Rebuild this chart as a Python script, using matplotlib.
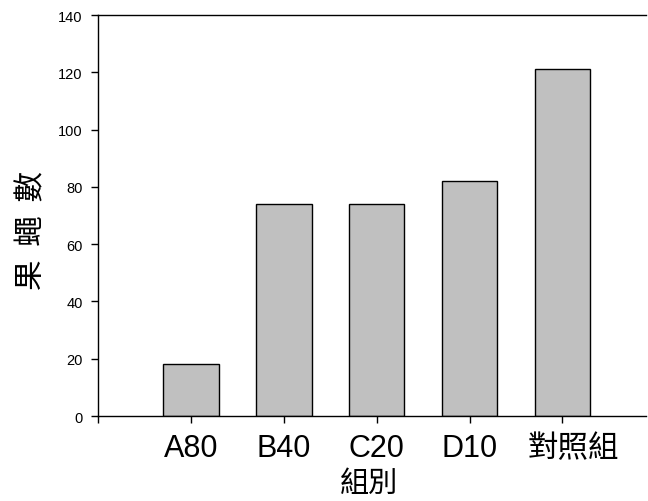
import matplotlib
matplotlib.use("Agg")
import matplotlib.pyplot as plt
import matplotlib.transforms as mtransforms

plt.rcParams['font.family'] = ['Liberation Sans', 'Noto Sans CJK TC', 'DejaVu Sans']

groups = ["A80", "B40", "C20", "D10", "對照組"]
counts = [18, 74, 74, 82, 121]
yticks = [0, 20, 40, 60, 80, 100, 120, 140]

fig = plt.figure(figsize=(6.48, 5.02), dpi=100)
ax = fig.add_axes([0.1512, 0.1693, 0.8457, 0.7988])

pos = list(range(len(groups)))
ax.bar(pos, counts, width=0.6, color="#c0c0c0", edgecolor="black", linewidth=1.0)

ax.set_xlim(-1, 4.9)
ax.set_ylim(0, 140)
ax.set_yticks(yticks)
ax.set_yticklabels([str(v) for v in yticks], fontsize=10.5)
ax.set_xticks([-1] + pos)
ax.set_xticklabels([""] + groups, fontsize=22)

ax.tick_params(axis="x", direction="out", length=5, width=1, pad=7)
ax.tick_params(axis="y", direction="out", length=5, width=1, pad=6)

# the last label sits a little right of its bar in the original
lab = ax.get_xticklabels()[-1]
lab.set_transform(lab.get_transform() + mtransforms.ScaledTranslation(11 / 100, 0, fig.dpi_scale_trans))

ax.spines["right"].set_visible(False)
for s in ["left", "bottom", "top"]:
    ax.spines[s].set_linewidth(1.0)

ax.set_ylabel("果  蠅  數", fontsize=22, family=['Noto Sans CJK TC'], labelpad=8, y=0.466)
ax.set_xlabel("組別", fontsize=21, family=['Noto Sans CJK TC'], labelpad=4, x=0.494)

fig.savefig("out.png", dpi=100)
